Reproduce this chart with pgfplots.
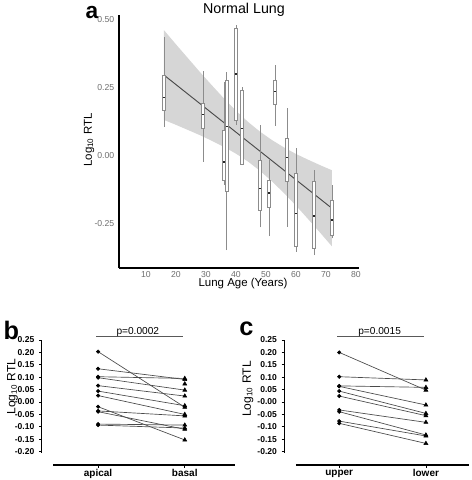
\documentclass[border=0pt]{standalone}
\usepackage{pgfplots}
\pgfplotsset{compat=1.18}
\usepackage{fontspec}
\setmainfont{Liberation Sans}
\definecolor{bandgray}{HTML}{D6D6D6}
\definecolor{boxgray}{HTML}{8C8C8C}
\definecolor{tickgray}{HTML}{6E6E6E}
\definecolor{linegray}{HTML}{4A4A4A}
% x, x-left, x-right, lower whisker, lower quartile, median, upper quartile, upper whisker
\newcommand{\bx}[8]{%
\addplot[boxgray, line width=0.6pt] coordinates {(#1,#4) (#1,#8)};
\addplot[draw=boxgray, fill=white, line width=0.5pt] coordinates {(#2,#5) (#3,#5) (#3,#7) (#2,#7)} -- cycle;
\addplot[black!85, line width=1pt] coordinates {(#2,#6) (#3,#6)};}
\begin{document}
\begin{tikzpicture}[x=1pt,y=1pt]
\path[use as bounding box] (0,0) rectangle (354,360);
% ---------------- panel a
\begin{axis}[at={(89.25pt,159pt)}, anchor=south west, scale only axis,
  width=180pt, height=189.75pt, xmin=1, xmax=81, ymin=-0.4154, ymax=0.515,
  axis x line*=bottom, axis y line*=left, axis line style={-, line width=1.1pt, black},
  xtick={10,20,30,40,50,60,70,80}, xticklabels={10,20,30,40,50,60,70,80},
  ytick={-0.25,0,0.25,0.5}, yticklabels={-0.25,0.00,0.25,0.50},
  major tick length=0pt,
  tick label style={font=\fontsize{6.5}{7}\selectfont, text=tickgray},
  xticklabel style={yshift=1pt}, clip=false]
\addplot[fill=bandgray, draw=none] coordinates {
 (16,0.459) (20,0.407) (24,0.356) (28,0.305) (32,0.256) (36,0.208) (40,0.163) (44,0.122)
 (48,0.086) (52,0.055) (56,0.028) (60,0.004) (64,-0.017) (68,-0.037) (72,-0.056)
 (72,-0.336) (68,-0.285) (64,-0.235) (60,-0.186) (56,-0.140) (52,-0.097) (48,-0.058)
 (44,-0.024) (40,0.005) (36,0.030) (32,0.052) (28,0.073) (24,0.092) (20,0.111) (16,0.129)} -- cycle;
\addplot[linegray, line width=0.7pt] coordinates {(16,0.294) (72,-0.196)};
\bx{16}{15.6}{16.4}{0.104}{0.163}{0.212}{0.294}{0.435}
\bx{29}{28.6}{29.4}{-0.025}{0.10}{0.15}{0.19}{0.31}
\bx{36}{35.6}{36.4}{-0.11}{-0.092}{-0.025}{0.092}{0.27}
\bx{36.95}{36.55}{37.35}{-0.35}{-0.135}{0.104}{0.276}{0.306}
\bx{40}{39.6}{40.4}{0.11}{0.129}{0.298}{0.466}{0.478}
\bx{42}{41.6}{42.4}{-0.037}{-0.035}{0.098}{0.239}{0.25}
\bx{48}{47.6}{48.4}{-0.266}{-0.202}{-0.122}{-0.018}{0.11}
\bx{51}{50.6}{51.4}{-0.298}{-0.192}{-0.139}{-0.092}{-0.018}
\bx{53}{52.6}{53.4}{0.107}{0.188}{0.233}{0.273}{0.331}
\bx{57}{56.6}{57.4}{-0.264}{-0.098}{-0.008}{0.061}{0.172}
\bx{60}{59.6}{60.4}{-0.355}{-0.335}{-0.214}{-0.067}{0.025}
\bx{66}{65.6}{66.4}{-0.368}{-0.343}{-0.224}{-0.098}{-0.055}
\bx{72}{71.6}{72.4}{-0.306}{-0.294}{-0.239}{-0.165}{-0.11}
\end{axis}
\node[anchor=base, font=\fontsize{10.7}{12}\selectfont] at (183,350.25) {Normal Lung};
\node[anchor=base, font=\fontsize{17}{19}\selectfont\bfseries] at (69,346.5) {a};
\node[anchor=base, font=\fontsize{8.6}{10}\selectfont] at (182.25,145) {Lung Age (Years)};
\node[rotate=90, font=\fontsize{8.6}{10}\selectfont] at (66.75,255) {Log\textsubscript{10} RTL};
% ---------------- panel b
\begin{axis}[at={(31.3pt,11.25pt)}, anchor=south west, scale only axis,
  width=145pt, height=93.75pt, xmin=-0.65, xmax=1.58, ymin=-0.254, ymax=0.25,
  axis line style={draw=none}, xtick pos=bottom, ytick pos=left, tick align=outside,
  major tick length=2pt, every tick/.style={black, line width=0.6pt},
  xtick={0,1}, xticklabels={apical,basal},
  ytick={-0.20,-0.15,-0.10,-0.05,0,0.05,0.10,0.15,0.20,0.25},
  yticklabels={-0.20,-0.15,-0.10,-0.05,-0.00,0.05,0.10,0.15,0.20,0.25},
  yticklabel style={font=\fontsize{6.4}{7}\selectfont\bfseries},
  xticklabel style={font=\fontsize{7.5}{8}\selectfont\bfseries, yshift=2pt},
  clip=false]
\draw[black, line width=0.8pt] (axis cs:-0.65,-0.205) -- (axis cs:-0.65,0.25);
\draw[black, line width=0.8pt] (axis cs:-0.52,-0.254) -- (axis cs:1.58,-0.254);
\draw[black!65, line width=0.6pt] (axis cs:-0.02,0.263) -- (axis cs:0.977,0.263);
\node[anchor=base, font=\fontsize{7.6}{8}\selectfont] at (axis cs:0.458,0.274) {p=0.0002};
\addplot[linegray, line width=0.5pt] coordinates {(0,0.203) (1,-0.021)};
\addplot[linegray, line width=0.5pt] coordinates {(0,0.134) (1,0.091)};
\addplot[linegray, line width=0.5pt] coordinates {(0,0.102) (1,0.095)};
\addplot[linegray, line width=0.5pt] coordinates {(0,0.098) (1,0.048)};
\addplot[linegray, line width=0.5pt] coordinates {(0,0.066) (1,0.024)};
\addplot[linegray, line width=0.5pt] coordinates {(0,0.044) (1,-0.015)};
\addplot[linegray, line width=0.5pt] coordinates {(0,0.026) (1,-0.050)};
\addplot[linegray, line width=0.5pt] coordinates {(0,-0.019) (1,-0.153)};
\addplot[linegray, line width=0.5pt] coordinates {(0,-0.036) (1,-0.056)};
\addplot[linegray, line width=0.5pt] coordinates {(0,-0.039) (1,-0.110)};
\addplot[linegray, line width=0.5pt] coordinates {(0,-0.089) (1,-0.093)};
\addplot[linegray, line width=0.5pt] coordinates {(0,-0.093) (1,-0.105)};
\addplot[only marks, mark=*, mark size=1.3pt, black] coordinates {(0,0.203) (0,0.134) (0,0.102) (0,0.098) (0,0.066) (0,0.044) (0,0.026) (0,-0.019) (0,-0.036) (0,-0.039) (0,-0.089) (0,-0.093)};
\addplot[only marks, mark=triangle*, mark size=1.7pt, black] coordinates {(1,-0.021) (1,0.091) (1,0.095) (1,0.048) (1,0.024) (1,-0.015) (1,-0.050) (1,-0.153) (1,-0.056) (1,-0.110) (1,-0.093) (1,-0.105) (1,0.073)};
\end{axis}
\node[anchor=base, font=\fontsize{19}{21}\selectfont\bfseries] at (8.6,105.5) {b};
\node[rotate=90, font=\fontsize{9}{10}\selectfont] at (9.4,70) {Log\textsubscript{10} RTL};
% ---------------- panel c
\begin{axis}[at={(213.2pt,11.25pt)}, anchor=south west, scale only axis,
  width=138.75pt, height=93.75pt, xmin=-0.634, xmax=1.5, ymin=-0.254, ymax=0.25,
  axis line style={draw=none}, xtick pos=bottom, ytick pos=left, tick align=outside,
  major tick length=2pt, every tick/.style={black, line width=0.6pt},
  xtick={0,1}, xticklabels={upper,lower},
  ytick={-0.20,-0.15,-0.10,-0.05,0,0.05,0.10,0.15,0.20,0.25},
  yticklabels={-0.20,-0.15,-0.10,-0.05,-0.00,0.05,0.10,0.15,0.20,0.25},
  yticklabel style={font=\fontsize{6.4}{7}\selectfont\bfseries},
  xticklabel style={font=\fontsize{7.5}{8}\selectfont\bfseries, yshift=2pt},
  clip=false]
\draw[black, line width=0.8pt] (axis cs:-0.634,-0.205) -- (axis cs:-0.634,0.25);
\draw[black, line width=0.8pt] (axis cs:-0.5,-0.254) -- (axis cs:1.5,-0.254);
\draw[black!65, line width=0.6pt] (axis cs:-0.02,0.263) -- (axis cs:0.98,0.263);
\node[anchor=base, font=\fontsize{7.6}{8}\selectfont] at (axis cs:0.466,0.274) {p=0.0015};
\addplot[linegray, line width=0.5pt] coordinates {(0,0.200) (1,0.048)};
\addplot[linegray, line width=0.5pt] coordinates {(0,0.102) (1,0.089)};
\addplot[linegray, line width=0.5pt] coordinates {(0,0.065) (1,0.059)};
\addplot[linegray, line width=0.5pt] coordinates {(0,0.063) (1,-0.012)};
\addplot[linegray, line width=0.5pt] coordinates {(0,0.044) (1,-0.046)};
\addplot[linegray, line width=0.5pt] coordinates {(0,0.024) (1,-0.055)};
\addplot[linegray, line width=0.5pt] coordinates {(0,-0.032) (1,-0.082)};
\addplot[linegray, line width=0.5pt] coordinates {(0,-0.039) (1,-0.133)};
\addplot[linegray, line width=0.5pt] coordinates {(0,-0.077) (1,-0.137)};
\addplot[linegray, line width=0.5pt] coordinates {(0,-0.086) (1,-0.167)};
\addplot[only marks, mark=*, mark size=1.3pt, black] coordinates {(0,0.200) (0,0.102) (0,0.065) (0,0.063) (0,0.044) (0,0.024) (0,-0.032) (0,-0.039) (0,-0.077) (0,-0.086)};
\addplot[only marks, mark=triangle*, mark size=1.7pt, black] coordinates {(1,0.048) (1,0.089) (1,0.059) (1,-0.012) (1,-0.046) (1,-0.055) (1,-0.082) (1,-0.133) (1,-0.137) (1,-0.167)};
\end{axis}
\node[anchor=base, font=\fontsize{19}{21}\selectfont\bfseries] at (184.9,108.75) {c};
\node[rotate=90, font=\fontsize{9}{10}\selectfont] at (186,68.25) {Log\textsubscript{10} RTL};
\end{tikzpicture}
\end{document}
